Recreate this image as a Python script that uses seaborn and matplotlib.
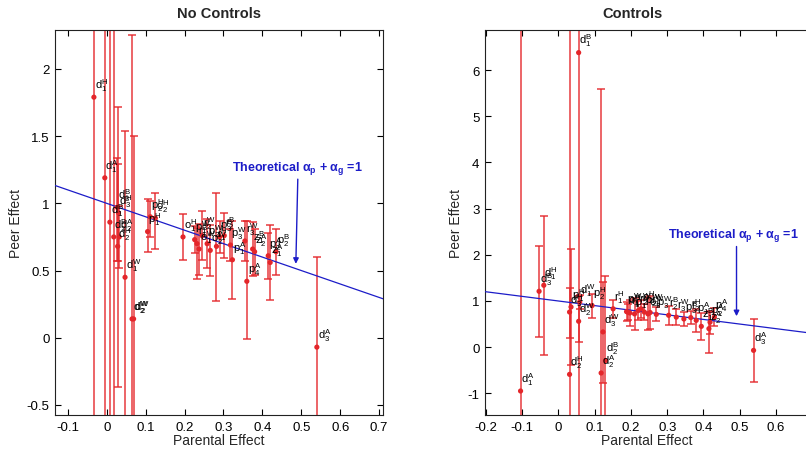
import numpy as np
import pandas as pd
import matplotlib
matplotlib.use("Agg")
import matplotlib.pyplot as plt
import seaborn as sns

# ---------------- data ----------------
# No Controls panel
nc_x = [-0.033, -0.005, 0.008, 0.018, 0.027, 0.030, 0.028, 0.032, 0.047, 0.065, 0.069,
        0.105, 0.112, 0.125, 0.196, 0.226, 0.232, 0.237, 0.245, 0.258, 0.266, 0.282,
        0.290, 0.302, 0.318, 0.323, 0.355, 0.360, 0.375, 0.380, 0.415, 0.420, 0.435, 0.540]
nc_y = [1.79, 1.19, 0.86, 0.75, 0.97, 0.93, 0.68, 0.75, 0.45, 0.14, 0.14,
        0.79, 0.90, 0.89, 0.75, 0.73, 0.70, 0.66, 0.76, 0.70, 0.65, 0.68,
        0.75, 0.76, 0.69, 0.58, 0.72, 0.42, 0.66, 0.64, 0.61, 0.56, 0.64, -0.07]
nc_lo = [9, 9, 9, 9, 0.40, 0.36, 1.05, 0.23, 9, 9, 9,
         0.15, 0.15, 0.23, 0.17, 0.10, 0.26, 0.19, 0.18, 0.18, 0.19, 0.41,
         0.12, 0.17, 0.12, 0.29, 0.15, 0.43, 0.20, 0.17, 0.17, 0.28, 0.17, 9]
nc_hi = [9, 9, 9, 9, 0.37, 0.36, 1.04, 0.23, 1.09, 2.11, 1.36,
         0.24, 0.12, 0.19, 0.17, 0.10, 0.12, 0.19, 0.18, 0.18, 0.19, 0.40,
         0.12, 0.17, 0.12, 0.29, 0.15, 0.45, 0.20, 0.17, 0.17, 0.28, 0.17, 0.67]
nc_lab = ["d_1^H", "d_1^A", "d_1^B", "d_2^B", "d_3^B", "d_3^H", "d_2^H", "d_2^A", "d_1^W", "d_2^W", "d_2^W",
          "p_1^H", "p_2^H", "o_2^H", "o_1^H", "p_1^W", "r_1^B", "o_1^W", "r_2^W", "p_2^W", "o_2^W", "r_1^H",
          "p_3^B", "r_2^B", "p_3^W", "p_1^A", "r_3^W", "p_4^A", "z_1^B", "z_2^A", "p_2^A", "z_1^A", "p_2^B", "d_3^A"]

# Controls panel
c_x = [-0.104, -0.053, -0.040, 0.056, 0.031, 0.035, 0.031, 0.056, 0.059, 0.093, 0.118, 0.123, 0.130,
       0.151, 0.191, 0.188, 0.197, 0.210, 0.220, 0.228, 0.237, 0.247, 0.253, 0.270, 0.304, 0.325,
       0.346, 0.365, 0.380, 0.394, 0.415, 0.418, 0.430, 0.538]
c_y = [-0.95, 1.21, 1.34, 6.38, 0.76, 0.87, -0.59, 0.56, 0.98, 0.90, -0.56, 0.33, -0.29,
       0.83, 0.76, 0.77, 0.74, 0.72, 0.79, 0.83, 0.76, 0.72, 0.75, 0.71, 0.69, 0.65,
       0.61, 0.64, 0.58, 0.45, 0.40, 0.54, 0.65, -0.07]
c_lo = [12, 0.99, 1.52, 12, 0.56, 1.25, 12, 0.45, 0.15, 0.26, 12, 1.10, 12,
        0.20, 0.17, 0.20, 0.28, 0.35, 0.20, 0.20, 0.18, 0.35, 0.35, 0.15, 0.20, 0.17,
        0.15, 0.14, 0.25, 0.30, 0.52, 0.25, 0.20, 0.68]
c_hi = [12, 0.99, 1.51, 12, 0.52, 1.25, 12, 0.54, 0.15, 0.26, 6.16, 1.08, 1.83,
        0.20, 0.17, 0.20, 0.28, 0.35, 0.20, 0.20, 0.18, 0.35, 0.35, 0.15, 0.20, 0.17,
        0.15, 0.14, 0.25, 0.30, 0.36, 0.25, 0.20, 0.68]
c_lab = ["d_1^A", "d_3^B", "d_1^H", "d_1^B", "d_3^H", "p_1^H", "d_2^H", "d_2^W", "d_1^W", "p_2^H", "d_2^A", "d_3^W", "d_2^B",
         "r_1^H", "o_1^H", "p_1^W", "r_1^B", "o_1^W", "r_2^W", "o_2^H", "p_2^W", "o_2^W", "r_1^W", "p_3^W", "r_2^B", "r_3^W",
         "p_3^B", "r_2^H", "p_1^A", "z_1^B", "z_2^A", "p_2^A", "p_4^A", "d_3^A"]

line_x = [-0.25, 0.75]
nc_xticks = [-0.1, 0, 0.1, 0.2, 0.3, 0.4, 0.5, 0.6, 0.7]
nc_yticks = [-0.5, 0, 0.5, 1, 1.5, 2]
c_xticks = [-0.2, -0.1, 0, 0.1, 0.2, 0.3, 0.4, 0.5, 0.6]
c_yticks = [-1, 0, 1, 2, 3, 4, 5, 6]

# ---------------- style ----------------
sns.set_style("white")
plt.rcParams["font.family"] = ["Liberation Sans", "DejaVu Sans"]
plt.rcParams["mathtext.fontset"] = "custom"
plt.rcParams["mathtext.rm"] = "Liberation Sans"
plt.rcParams["mathtext.it"] = "Liberation Sans:italic"
plt.rcParams["mathtext.bf"] = "Liberation Sans:bold"
plt.rcParams["mathtext.default"] = "regular"
plt.rcParams["axes.unicode_minus"] = False

RED = "#e4262a"
BLUE = "#1c1cc8"

fig = plt.figure(figsize=(8.06, 4.52), dpi=100)
ax1 = fig.add_axes([55 / 806, 36 / 452, 328 / 806, 385 / 452])
ax2 = fig.add_axes([485 / 806, 36 / 452, 331 / 806, 385 / 452])


def draw(ax, xs, ys, lo, hi, labs, xlim, ylim, xticks, yticks, title, title_x,
         txt_xy, arr_from, arr_to, ylab_x, xlab_x):
    df = pd.DataFrame({"x": xs, "y": ys})
    ax.errorbar(xs, ys, yerr=[lo, hi], fmt="none", ecolor=RED, elinewidth=1.1,
                capsize=3.2, capthick=1.1, alpha=0.9, zorder=2)
    sns.scatterplot(data=df, x="x", y="y", ax=ax, color=RED, s=14, marker="o",
                    edgecolor="none", zorder=4)
    lx = np.array(line_x)
    sns.lineplot(x=lx, y=1 - lx, ax=ax, color=BLUE, lw=0.9, zorder=3)
    for x, y, lab in zip(xs, ys, labs):
        ax.annotate(r"$" + lab + r"$", (x, y), xytext=(0.5, 3), textcoords="offset points",
                    fontsize=8, ha="left", va="bottom", color="black", zorder=5)
    ax.annotate("", xy=arr_to, xytext=arr_from,
                arrowprops=dict(arrowstyle="-|>", color=BLUE, lw=1.0, mutation_scale=8,
                                shrinkA=0, shrinkB=0), zorder=6)
    ax.text(txt_xy[0], txt_xy[1], r"Theoretical $\mathbf{\alpha_p}$ + $\mathbf{\alpha_g}$ =1",
            color=BLUE, fontsize=9, fontweight="bold", ha="left", va="center", zorder=6)
    ax.set_xlim(*xlim)
    ax.set_ylim(*ylim)
    ax.set_xticks(xticks)
    ax.set_xticklabels([f"{t:g}" for t in xticks])
    ax.set_yticks(yticks)
    ax.set_yticklabels([f"{t:g}" for t in yticks])
    ax.tick_params(direction="in", length=4, width=0.8, top=True, right=True,
                   bottom=True, left=True, labelsize=9.5, colors="black", pad=4)
    for sp in ax.spines.values():
        sp.set_color("#222222")
        sp.set_linewidth(0.8)
    ax.set_xlabel("Parental Effect", fontsize=10)
    ax.set_ylabel("Peer Effect", fontsize=10)
    ax.yaxis.set_label_coords(ylab_x, 0.5)
    ax.xaxis.set_label_coords(xlab_x, -0.047)
    ax.set_title(title, fontsize=10.5, fontweight="bold", x=title_x, pad=9)


draw(ax1, nc_x, nc_y, nc_lo, nc_hi, nc_lab, (-0.133, 0.71), (-0.575, 2.29),
     nc_xticks, nc_yticks, "No Controls", 0.5,
     (0.322, 1.27), (0.491, 1.18), (0.486, 0.55), -0.097, 0.5)
draw(ax2, c_x, c_y, c_lo, c_hi, c_lab, (-0.202, 0.71), (-1.47, 6.87),
     c_xticks, c_yticks, "Controls", 0.447,
     (0.301, 2.44), (0.491, 2.18), (0.491, 0.67), -0.066, 0.49)

fig.savefig("out.png", dpi=100)
